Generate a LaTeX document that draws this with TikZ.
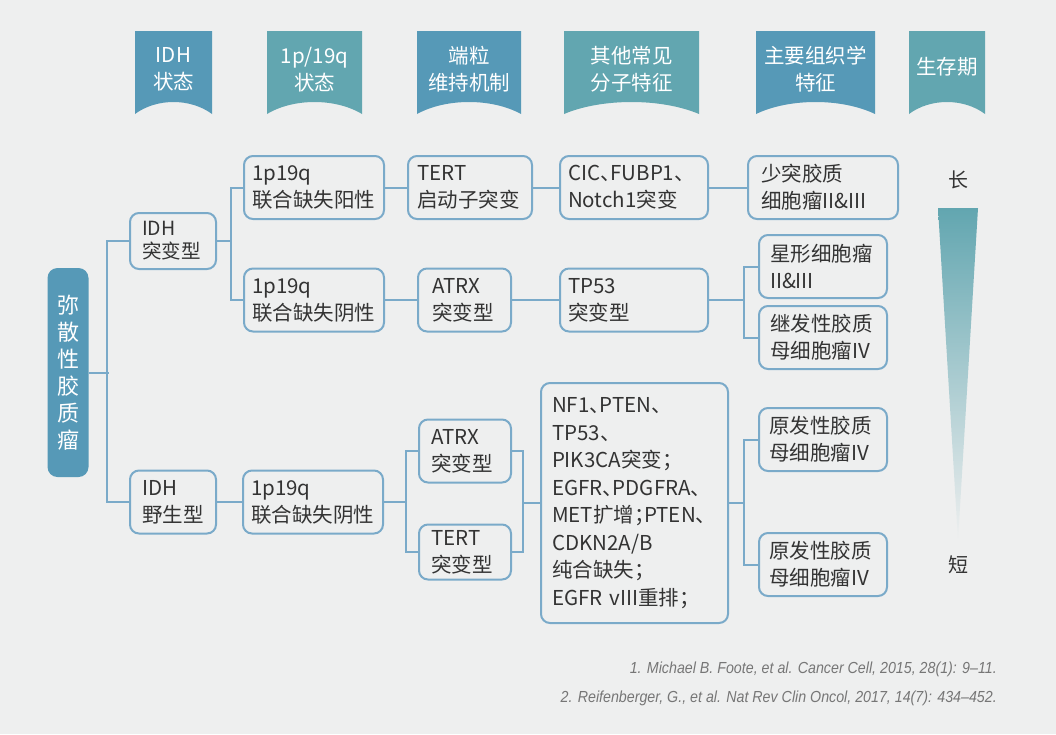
\documentclass[tikz,border=0pt]{standalone}
\usepackage{fontspec}
\setmainfont{Noto Sans CJK SC}[RawFeature=+halt]
\newfontfamily\refont{Liberation Sans}[FakeStretch=0.89]
\usepackage{tikz}
\usetikzlibrary{calc}
\definecolor{fond}{RGB}{238,239,239}
\definecolor{bleu}{RGB}{86,153,183}
\definecolor{sarcelle}{RGB}{98,166,176}
\definecolor{cadre}{RGB}{122,170,201}
\definecolor{texte}{RGB}{51,51,51}
\definecolor{gris}{RGB}{118,118,118}

\begin{document}
\begin{tikzpicture}[x=1pt,y=-1pt,
	police/.style={font=\fontsize{20.5}{27}\selectfont},
	entete/.style={police,text=white,align=center},
	boite/.style={draw=cadre,line width=2pt,rounded corners=9pt,police,text=texte,align=left,minimum height=63pt},
	larg/.code 2 args={\pgfmathsetmacro\largtxt{#1-2*#2}\pgfkeysalso{minimum width=#1pt,inner xsep=#2pt,text width/.expanded=\largtxt pt}},
	racine/.style={fill=bleu,rounded corners=10pt,text=white,align=center,minimum width=41pt,minimum height=209pt,inner sep=0pt,font=\fontsize{22}{27}\selectfont},
	lien/.style={cadre,line width=2pt},
	refs/.style={anchor=east,inner sep=0pt,text=gris,font=\refont\itshape\fontsize{16}{19}\selectfont}]
	\useasboundingbox (0,0) rectangle (1056,734);
	\fill[fond] (0,0) rectangle (1056,734);
	
	% bandeaux
	\foreach \xa/\xb/\coul/\yt/\txt [count=\i] in {135/212/bleu/69.5/{IDH\\状态},267/362/sarcelle/69.5/{1p/19q\\状态},417/521/bleu/69.5/{端粒\\维持机制},564/699/sarcelle/69.5/{其他常见\\分子特征},756/875/bleu/69.5/{主要组织学\\特征},909/985/sarcelle/67/{生存期}}{
		\fill[\coul] (\xa,31) -- (\xb,31) -- (\xb,114)
		.. controls ({\xb-0.28*(\xb-\xa)},98) and ({\xa+0.28*(\xb-\xa)},98) .. (\xa,114) -- cycle;
		\node[entete] (h\i) at ({(\xa+\xb)/2},\yt) {\txt};
	}
	
	\node[racine] (glio) at (68,372.5) {弥\\散\\性\\胶\\质\\瘤};
	
	% IDH突变型
	\node[boite,larg={86}{12},minimum height=56pt,font=\fontsize{19.5}{23}\selectfont] (idhm) at (173,241) {IDH\\突变型};
	\node[boite,larg={140}{8}] (codel) at (314,187.5) {1p19q\\联合缺失阳性};
	\node[boite,larg={140}{8}] (noncodel) at (314,300) {1p19q\\联合缺失阴性};
	\node[boite,larg={124}{9}] (tert) at (470,187.5) {TERT\\启动子突变};
	\node[boite,larg={148}{8}] (cic) at (634,187.5) {CIC、FUBP1、\\Notch1突变};
	\node[boite,larg={150}{13}] (oligo) at (823,187.5) {少突胶质\\细胞瘤II\&III};
	\node[boite,larg={93}{14}] (atrxm) at (464.5,300) {ATRX\\突变型};
	\node[boite,larg={148}{8}] (tp53) at (634,300) {TP53\\突变型};
	\node[boite,larg={128}{11}] (astro) at (823,266.5) {星形细胞瘤\\II\&III};
	\node[boite,larg={128}{11}] (gbm2) at (823,337.5) {继发性胶质\\母细胞瘤IV};
	
	% IDH野生型
	\node[boite,larg={86}{12}] (idhw) at (173,502) {IDH\\野生型};
	\node[boite,larg={140}{8}] (noncodelw) at (313,502) {1p19q\\联合缺失阴性};
	\node[boite,larg={92}{12}] (atrxw) at (465,451) {ATRX\\突变型};
	\node[boite,larg={92}{12},minimum height=55pt,inner ysep=1pt] (tertw) at (465,552) {TERT\\突变型};
	\node[boite,larg={187}{11},minimum height=240pt,font=\fontsize{20.5}{27.5}\selectfont] (gene) at (634.5,503)
	{NF1、PTEN、\\TP53、\\PIK3CA突变；\\EGFR、PDGFRA、\\MET扩增；PTEN、\\CDKN2A/B\\纯合缺失；\\EGFR vIII重排；};
	\node[boite,larg={128}{10}] (gbm1a) at (823,439.5) {原发性胶质\\母细胞瘤IV};
	\node[boite,larg={128}{10}] (gbm1b) at (823,564.5) {原发性胶质\\母细胞瘤IV};
	
	% liens
	\draw[lien] (glio.east) -- ++(20,0);
	\draw[lien] (idhm.west) -- ++(-22,0) |- (idhw.west);
	\draw[lien] (codel.west) -- ++(-12,0) coordinate (b1) |- (noncodel.west);
	\draw[lien] (idhm.east) -- (idhm.east -| b1);
	\draw[lien] (codel.east) -- (tert.west);
	\draw[lien] (tert.east) -- (cic.west);
	\draw[lien] (cic.east) -- (oligo.west);
	\draw[lien] (noncodel.east) -- (atrxm.west);
	\draw[lien] (atrxm.east) -- (tp53.west);
	\draw[lien] (astro.west) -- ++(-14,0) coordinate (b2) |- (gbm2.west);
	\draw[lien] (tp53.east) -- (tp53.east -| b2);
	\draw[lien] (idhw.east) -- (noncodelw.west);
	\draw[lien] (atrxw.west) -- ++(-12,0) coordinate (b3) |- (tertw.west);
	\draw[lien] (noncodelw.east) -- (noncodelw.east -| b3);
	\draw[lien] (atrxw.east) -- ++(11,0) coordinate (b4) |- (tertw.east);
	\draw[lien] (b4 |- gene.west) -- (gene.west);
	\draw[lien] (gbm1a.west) -- ++(-14,0) coordinate (b5) |- (gbm1b.west);
	\draw[lien] (gene.east) -- (gene.east -| b5);
	
	% survie
	\node[text=texte,font=\fontsize{20}{24}\selectfont] (long) at (958,180) {长};
	\node[text=texte,font=\fontsize{20}{24}\selectfont] (court) at (958,565) {短};
	\shade[top color=sarcelle,bottom color=fond] (938,208) -- (978,208) -- (958,540) -- cycle;
	
	\node[refs] (ref1) at (997,669) {1. Michael B. Foote, et al. Cancer Cell, 2015, 28(1): 9–11.};
	\node[refs] (ref2) at (997,698) {2. Reifenberger, G., et al. Nat Rev Clin Oncol, 2017, 14(7): 434–452.};
\end{tikzpicture}
\end{document}
